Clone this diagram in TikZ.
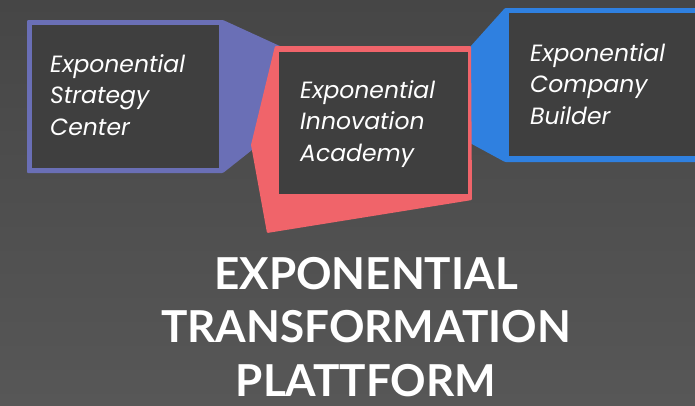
\documentclass[tikz,border=0pt]{standalone}
\usepackage{fontspec}
\newfontfamily\boxfont{Poppins}
\newfontfamily\titlefont{Lato}
\definecolor{bgtop}{HTML}{464646}
\definecolor{bgbot}{HTML}{575757}
\definecolor{innerfill}{HTML}{3F3F3F}
\definecolor{purpleC}{HTML}{6A6FB6}
\definecolor{redC}{HTML}{F0646A}
\definecolor{blueC}{HTML}{2F80E0}
\tikzset{
  panel/.style={fill=innerfill},
  boxtext/.style={anchor=base west, inner sep=0pt, align=left, text=white,
    font=\boxfont\itshape\fontsize{23.5}{31.5}\selectfont},
  titletext/.style={anchor=base, inner sep=0pt, align=center, text=white,
    font=\titlefont\bfseries\fontsize{44}{53.5}\selectfont}
}
\begin{document}
\begin{tikzpicture}[x=1pt,y=-1pt]
\useasboundingbox (0,0) rectangle (695,405);
\shade[top color=bgtop, bottom color=bgbot] (0,0) rectangle (695,405);
% purple (left)
\fill[purpleC, rounded corners=1pt] (27,20) -- (223,20) -- (282,47) -- (252,150) -- (223,173) -- (27,173) -- cycle;
\fill[panel] (32,25) rectangle (219,168);
% blue (right)
\fill[blueC, rounded corners=1pt] (505,8) -- (700,8) -- (700,162) -- (505,162) -- (470,143) -- (470,47) -- cycle;
\fill[panel] (509,13) rectangle (700,156);
% red (middle)
\fill[redC, rounded corners=1pt] (275,46) -- (471,46) -- (472,200) -- (267,233) -- (251,145) -- cycle;
\fill[panel] (279,52) rectangle (468,194);
% texts (base anchor = last line baseline)
\node[boxtext] (esc) at (50,135) {Exponential\\Strategy\\Center};
\node[boxtext] (eia) at (300,161) {Exponential\\Innovation\\Academy};
\node[boxtext] (ecb) at (530,124) {Exponential\\Company\\Builder};
\node[titletext] (title) at (366,396) {EXPONENTIAL\\TRANSFORMATION\\PLATTFORM};
\end{tikzpicture}
\end{document}
